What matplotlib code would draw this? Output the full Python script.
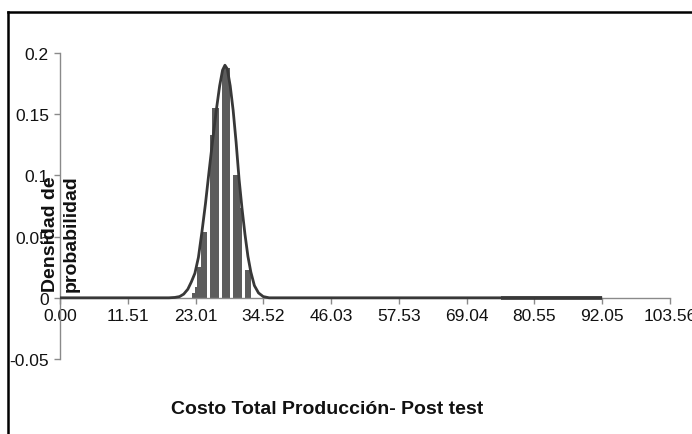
import matplotlib
matplotlib.use("Agg")
import matplotlib.pyplot as plt
from matplotlib.lines import Line2D

plt.rcParams["font.family"] = ["Liberation Sans", "DejaVu Sans"]

# %%
# Values
x_ticks = [0.00, 11.51, 23.01, 34.52, 46.03, 57.53, 69.04, 80.55, 92.05, 103.56]
y_ticks = [-0.05, 0, 0.05, 0.1, 0.15, 0.2]
y_tick_labels = ["-0.05", "0", "0.05", "0.1", "0.15", "0.2"]

# histogram bins: left edge, right edge, density
bin_left = [22.4, 22.9, 23.3, 24.0, 25.45, 25.8, 27.5, 29.4, 30.5, 31.4]
bin_right = [22.9, 23.3, 24.0, 24.95, 25.8, 27.0, 28.9, 30.5, 30.9, 32.4]
bin_height = [0.004, 0.009, 0.025, 0.054, 0.133, 0.155, 0.188, 0.100, 0.073, 0.023]

# fitted density curve
curve_x = [0.00, 11.51, 18.5, 19.5, 20.3, 21.0, 21.7, 22.3, 22.9, 23.5, 24.1,
           24.7, 25.3, 25.9, 26.5, 27.1, 27.6, 28.0, 28.4, 28.9, 29.4, 29.9,
           30.4, 30.9, 31.4, 31.9, 32.4, 33.0, 33.7, 34.5, 35.5, 46.03, 92.05]
curve_y = [0.0, 0.0, 0.0, 0.0003, 0.001, 0.003, 0.007, 0.013, 0.020, 0.033, 0.054,
           0.077, 0.103, 0.128, 0.152, 0.173, 0.186, 0.190, 0.187, 0.173, 0.153, 0.127,
           0.097, 0.073, 0.052, 0.034, 0.021, 0.010, 0.004, 0.001, 0.0, 0.0, 0.0]

# heavier flat stretch of the curve near the right end
tail_x = [74.8, 92.05]
tail_y = [0.0, 0.0]

title = "Costo Total Producción- Post test"
ylabel = "Densidad de\nprobabilidad"

AXIS_GRAY = "#8a8a8a"
BAR_COLOR = "#5c5c5c"
LINE_COLOR = "#383838"

# %%
fig = plt.figure(figsize=(6.92, 4.35), dpi=100)
ax = fig.add_axes([0.0867, 0.1724, 0.8815, 0.7035])

widths = [r - l for l, r in zip(bin_left, bin_right)]
ax.bar(bin_left, bin_height, width=widths, align="edge",
       color=BAR_COLOR, edgecolor="none", zorder=2)
ax.plot(curve_x, curve_y, color=LINE_COLOR, linewidth=2.0, zorder=3,
        solid_capstyle="butt", solid_joinstyle="round")
ax.plot(tail_x, tail_y, color=LINE_COLOR, linewidth=2.6, zorder=3,
        solid_capstyle="butt")

ax.set_xlim(0, 103.56)
ax.set_ylim(-0.05, 0.2)

ax.spines[["top", "right"]].set_visible(False)
ax.spines["bottom"].set_position(("data", 0))
for side in ["left", "bottom"]:
    ax.spines[side].set_color(AXIS_GRAY)
    ax.spines[side].set_linewidth(1.0)

ax.set_xticks(x_ticks)
ax.set_xticklabels([f"{v:.2f}" for v in x_ticks])
ax.set_yticks(y_ticks)
ax.set_yticklabels(y_tick_labels)
ax.tick_params(axis="both", colors=AXIS_GRAY, labelcolor="#111111",
               labelsize=12.5, length=4, width=1.0)
ax.tick_params(axis="y", pad=4)
ax.tick_params(axis="x", pad=3)
for lbl in ax.get_xticklabels() + ax.get_yticklabels():
    lbl.set_clip_on(False)

fig.text(61 / 692, 143 / 435, ylabel, rotation=90, ha="center", va="bottom",
         multialignment="left", fontsize=14, fontweight="bold",
         linespacing=1.25, color="#111111")

fig.text(327 / 692, 1 - 410 / 435, title, ha="center", va="center",
         fontsize=14, fontweight="bold", color="#111111")

# chart frame (only the left and top edges show in the picture)
fig.add_artist(Line2D([8 / 692, 8 / 692], [0, 1 - 13 / 435],
                      transform=fig.transFigure, color="black", linewidth=1.8))
fig.add_artist(Line2D([8 / 692, 1], [1 - 13 / 435, 1 - 13 / 435],
                      transform=fig.transFigure, color="black", linewidth=1.8))

fig.savefig("out.png", dpi=100)
